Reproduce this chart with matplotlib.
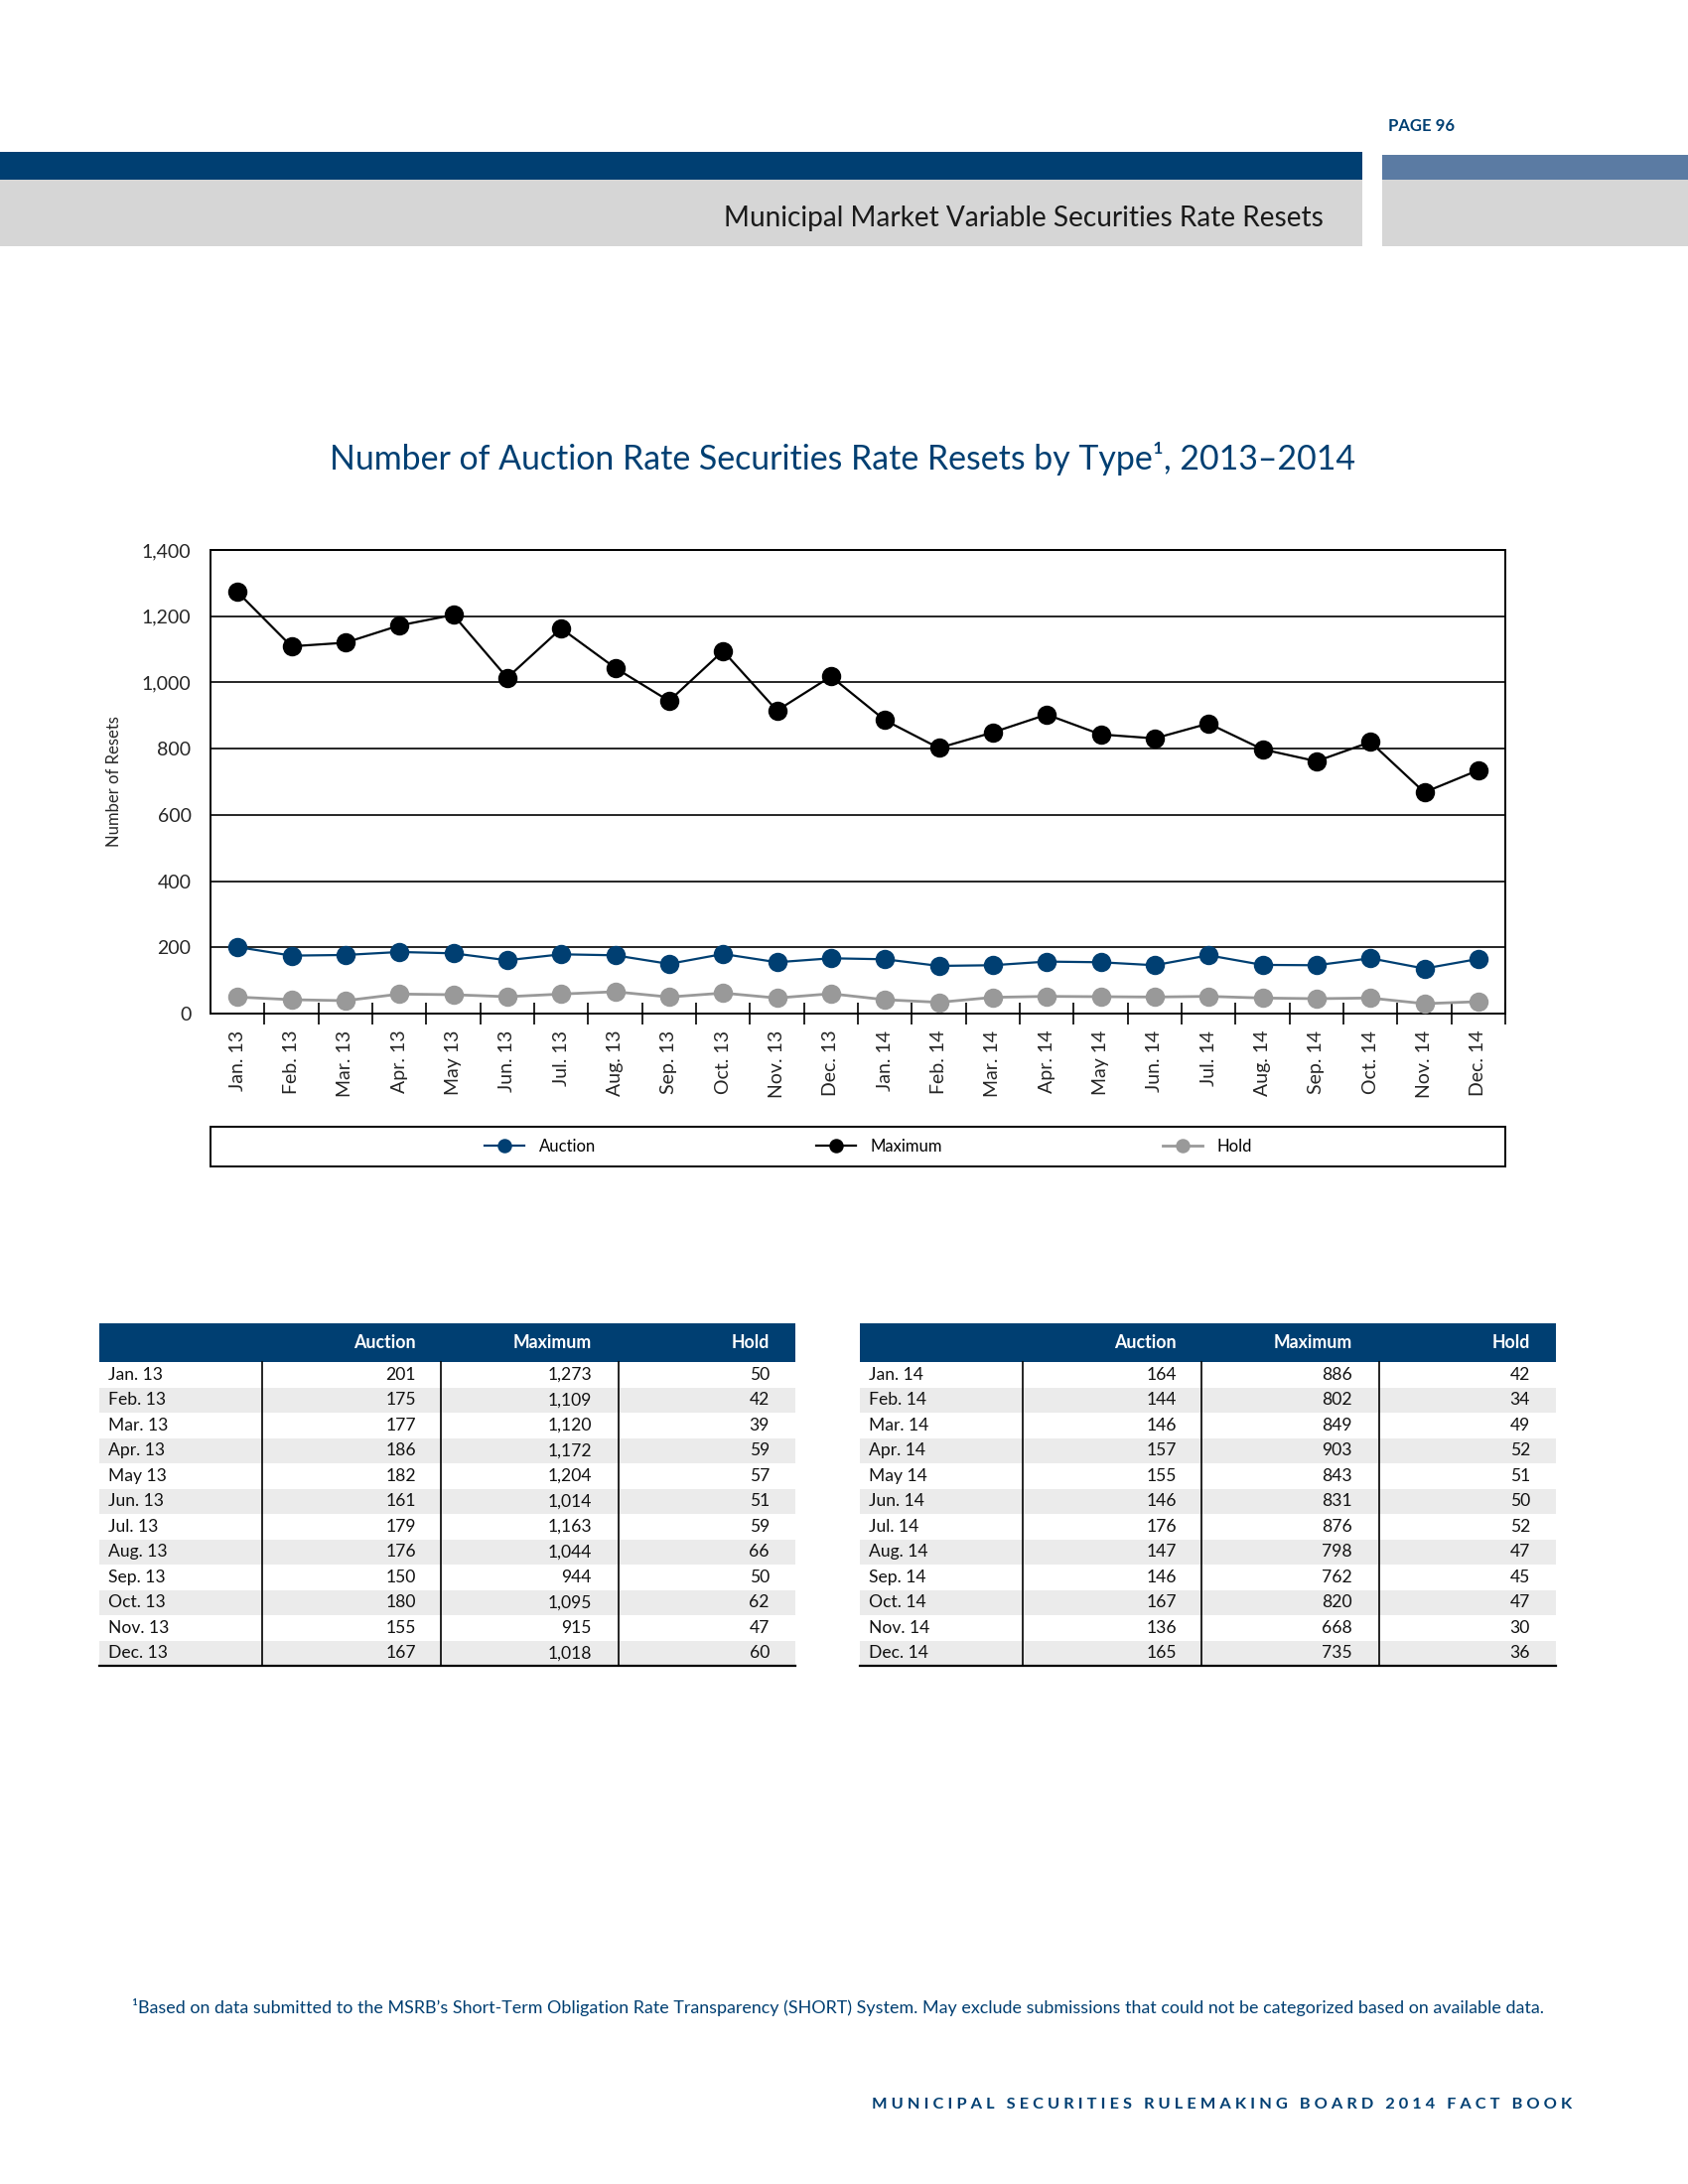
import matplotlib
matplotlib.use('Agg')
import matplotlib.pyplot as plt
from matplotlib.patches import Rectangle
import numpy as np

# ---------------- data ----------------
months = ['Jan. 13', 'Feb. 13', 'Mar. 13', 'Apr. 13', 'May 13', 'Jun. 13',
          'Jul. 13', 'Aug. 13', 'Sep. 13', 'Oct. 13', 'Nov. 13', 'Dec. 13',
          'Jan. 14', 'Feb. 14', 'Mar. 14', 'Apr. 14', 'May 14', 'Jun. 14',
          'Jul. 14', 'Aug. 14', 'Sep. 14', 'Oct. 14', 'Nov. 14', 'Dec. 14']
auction = [201, 175, 177, 186, 182, 161, 179, 176, 150, 180, 155, 167,
           164, 144, 146, 157, 155, 146, 176, 147, 146, 167, 136, 165]
maximum = [1273, 1109, 1120, 1172, 1204, 1014, 1163, 1044, 944, 1095, 915, 1018,
           886, 802, 849, 903, 843, 831, 876, 798, 762, 820, 668, 735]
hold = [50, 42, 39, 59, 57, 51, 59, 66, 50, 62, 47, 60,
        42, 34, 49, 52, 51, 50, 52, 47, 45, 47, 30, 36]
yticks = [0, 200, 400, 600, 800, 1000, 1200, 1400]
series_names = ['Auction', 'Maximum', 'Hold']

# ---------------- style ----------------
plt.rcParams['font.family'] = ['Lato', 'DejaVu Sans']
NAVY = '#003f72'
LBLUE = '#5b7ba3'
GREYBAND = '#d6d6d6'
HOLDC = '#999999'
STRIPE = '#ebebeb'
TXT = '#262626'

W, H = 1700, 2200
fig = plt.figure(figsize=(8.5, 11), dpi=200)

bg = fig.add_axes([0, 0, 1, 1], zorder=0)
bg.set_xlim(0, W)
bg.set_ylim(H, 0)
bg.axis('off')


def fax(l, t, r, b):
    return [l / W, 1 - b / H, (r - l) / W, (b - t) / H]


# ---------------- page header ----------------
bg.add_patch(Rectangle((0, 153), 1372, 28, color=NAVY, lw=0))
bg.add_patch(Rectangle((1392, 156), 308, 25, color=LBLUE, lw=0))
bg.add_patch(Rectangle((0, 181), 1372, 67, color=GREYBAND, lw=0))
bg.add_patch(Rectangle((1392, 181), 308, 67, color=GREYBAND, lw=0))
bg.text(1398, 127, 'PAGE 96', color=NAVY, fontsize=6, fontweight='bold',
        ha='left', va='center')
bg.text(1333, 220, 'Municipal Market Variable Securities Rate Resets',
        color='#1a1a1a', fontsize=10.1, fontweight='normal', ha='right', va='center')

# ---------------- chart title ----------------
bg.text(849, 462, 'Number of Auction Rate Securities Rate Resets by Type¹, 2013–2014',
        color=NAVY, fontsize=12.2, ha='center', va='center')

# ---------------- chart ----------------
ax = fig.add_axes(fax(212, 554, 1516, 1021), zorder=2)
xs = np.arange(len(months))
ax.plot(xs, hold, color=HOLDC, lw=1.0, marker='o', ms=6, label=series_names[2],
        zorder=5, clip_on=False)
ax.plot(xs, auction, color=NAVY, lw=0.8, marker='o', ms=6, label=series_names[0],
        zorder=6, clip_on=False)
ax.plot(xs, maximum, color='black', lw=0.8, marker='o', ms=6, label=series_names[1],
        zorder=6, clip_on=False)

ax.set_xlim(-0.5, len(months) - 0.5)
ax.set_ylim(0, 1400)
ax.set_yticks(yticks)
ax.set_yticklabels([f'{v:,}' for v in yticks], fontsize=7, color=TXT)
ax.yaxis.grid(True, color='black', lw=0.6)
ax.set_axisbelow(True)
ax.tick_params(axis='y', length=0, pad=7)
ax.set_xticks(xs)
ax.set_xticklabels(months, rotation=90, fontsize=7, color=TXT)
ax.tick_params(axis='x', which='major', length=0, pad=6)
ax.set_xticks(np.arange(0.5, len(months), 1.0), minor=True)
ax.tick_params(axis='x', which='minor', direction='inout', length=8, width=0.6,
               color='black')
for s in ax.spines.values():
    s.set_linewidth(0.7)
    s.set_color('black')
ax.set_ylabel('Number of Resets', fontsize=6, color=TXT, labelpad=7)

# ---------------- legend ----------------
lax = fig.add_axes(fax(212, 1135, 1516, 1175), zorder=2)
lax.set_xticks([])
lax.set_yticks([])
for s in lax.spines.values():
    s.set_linewidth(0.7)
handles, labels = ax.get_legend_handles_labels()
order = [labels.index(n) for n in series_names]
lax.legend([handles[i] for i in order], [labels[i] for i in order],
           loc='center', ncol=3, frameon=False, fontsize=6, markerscale=0.7,
           handlelength=2.4, columnspacing=13.3, handletextpad=0.9,
           bbox_to_anchor=(0.508, 0.5))

# ---------------- tables ----------------
def draw_table(left, labels, a, m, h):
    top, hb, rh, width = 1333, 1372, 25.5, 701
    bg.add_patch(Rectangle((left, top), width, hb - top, color=NAVY, lw=0))
    hy = (top + hb) / 2
    for off, name in zip([319, 496, 675], series_names):
        bg.text(left + off, hy, name, color='white', fontsize=6.4,
                fontweight='bold', ha='right', va='center')
    n = len(labels)
    for i in range(n):
        y0 = hb + rh * i
        yc = y0 + rh / 2
        if i % 2 == 1:
            bg.add_patch(Rectangle((left, y0), width, rh, color=STRIPE, lw=0))
        bg.text(left + 9, yc, labels[i], fontsize=6.3, color='#111111',
                ha='left', va='center')
        for off, val in zip([319, 496, 675], [a[i], m[i], h[i]]):
            bg.text(left + off, yc, f'{val:,}', fontsize=6.3, color='#111111',
                    ha='right', va='center')
    bottom = hb + rh * n
    for off in [164, 344, 523]:
        bg.plot([left + off, left + off], [hb, bottom], color='black', lw=0.6)
    bg.plot([left, left + width], [bottom, bottom], color='black', lw=0.8)


draw_table(100, months[:12], auction[:12], maximum[:12], hold[:12])
draw_table(866, months[12:], auction[12:], maximum[12:], hold[12:])

# ---------------- footnotes ----------------
bg.text(133, 2022,
        '¹Based on data submitted to the MSRB’s Short-Term Obligation Rate Transparency '
        '(SHORT) System. May exclude submissions that could not be categorized based on '
        'available data.', color=NAVY, fontsize=6.45, ha='left', va='center')
footer = 'MUNICIPAL SECURITIES RULEMAKING BOARD 2014 FACT BOOK'
spaced = '   '.join(' '.join(w) for w in footer.split(' '))
bg.text(1583, 2120, spaced, color=NAVY, fontsize=5.9, fontweight='bold',
        ha='right', va='center')

fig.savefig('out.png', dpi=200)
